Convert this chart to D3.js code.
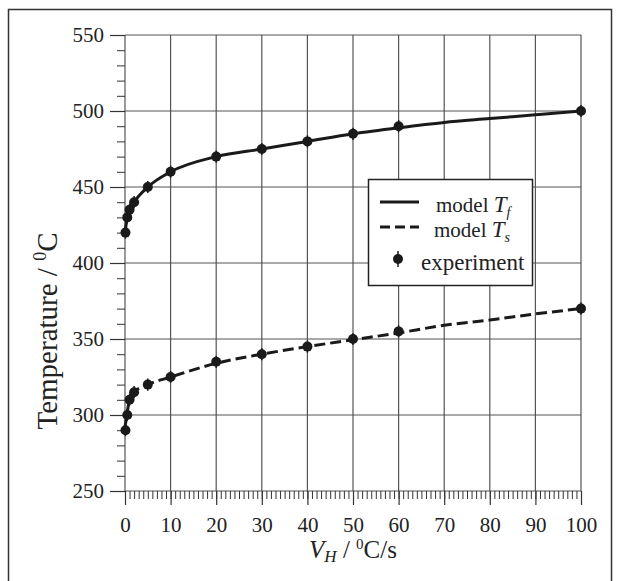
<!DOCTYPE html>
<html>
<head>
<meta charset="utf-8">
<script src="https://cdn.jsdelivr.net/npm/d3@7"></script>
<style>
  body { margin: 0; background: #fff; }
  svg, svg text { font-family: "Liberation Serif", "Times New Roman", serif; }
  .domain { display: none; }
</style>
</head>
<body>
<svg id="chart" width="620" height="581"></svg>
<script>
// experimental points
const expX  = [0.1, 0.5, 1, 2, 5, 10, 20, 30, 40, 50, 60, 100];
const expTf = [420, 430, 435, 440, 450, 460, 470, 475, 480, 485, 490, 500];
const expTs = [290, 300, 310, 315, 320, 325, 335, 340, 345, 350, 355, 370];
const expErr = 4;

// model curves
const modelX  = [0, 0.5, 1, 2, 5, 10, 20, 30, 40, 50, 60, 70, 80, 90, 100];
const modelTf = [420, 430, 435, 440, 450, 460, 470, 475, 480, 485, 489, 492.5, 495, 497.5, 500];
const modelTs = [292, 302, 310, 315, 320, 325, 334, 340, 345, 349.5, 354, 359, 362.5, 366.5, 370];

const xTicks = d3.range(0, 101, 10);
const yTicks = d3.range(250, 551, 50);

const serif = '"Liberation Serif", "Times New Roman", serif';
const svg = d3.select("#chart");
const pLeft = 125, pRight = 581, pTop = 35, pBottom = 491;

// outer frame
svg.append("rect")
  .attr("x", 8.5).attr("y", 9.5)
  .attr("width", 603).attr("height", 620)
  .attr("fill", "none").attr("stroke", "#333").attr("stroke-width", 1.5);

let x = d3.scaleLinear().domain([0, 100]).range([pLeft, pRight]);
let y = d3.scaleLinear().domain([250, 550]).range([pBottom, pTop]);

// grid
svg.append("g").selectAll("line").data(xTicks).join("line")
  .attr("x1", d => x(d)).attr("x2", d => x(d))
  .attr("y1", pTop).attr("y2", pBottom)
  .attr("stroke", "#555").attr("stroke-width", 1.2);
svg.append("g").selectAll("line").data(yTicks).join("line")
  .attr("x1", pLeft).attr("x2", pRight)
  .attr("y1", d => y(d)).attr("y2", d => y(d))
  .attr("stroke", "#555").attr("stroke-width", 1.2);

// axes: minor then major
svg.append("g")
  .attr("transform", "translate(0," + pBottom + ")")
  .call(d3.axisBottom(x).tickValues(d3.range(0, 101, 1)).tickSize(8).tickFormat(""))
  .selectAll("line").attr("stroke", "#333");
let xAxis = svg.append("g")
  .attr("transform", "translate(0," + pBottom + ")")
  .call(d3.axisBottom(x).tickValues(xTicks).tickSize(14).tickPadding(12))
  .attr("font-family", null).attr("font-size", 21);
xAxis.selectAll("line").attr("stroke", "#333").attr("stroke-width", 1.2);
xAxis.selectAll("text").attr("fill", "#222").style("font-family", serif);

svg.append("g")
  .attr("transform", "translate(" + pLeft + ",0)")
  .call(d3.axisLeft(y).tickValues(d3.range(250, 551, 10)).tickSize(8).tickFormat(""))
  .selectAll("line").attr("stroke", "#333");
let yAxis = svg.append("g")
  .attr("transform", "translate(" + pLeft + ",0)")
  .call(d3.axisLeft(y).tickValues(yTicks).tickSize(15).tickPadding(6))
  .attr("font-family", null).attr("font-size", 21);
yAxis.selectAll("line").attr("stroke", "#333").attr("stroke-width", 1.2);
yAxis.selectAll("text").attr("fill", "#222").style("font-family", serif);

// axis titles
let xt = svg.append("text")
  .attr("x", (pLeft + pRight) / 2).attr("y", 558)
  .attr("text-anchor", "middle").attr("font-size", 25).attr("fill", "#222");
xt.append("tspan").attr("font-style", "italic").text("V");
xt.append("tspan").attr("font-style", "italic").attr("font-size", 17).attr("dy", 4).text("H");
xt.append("tspan").attr("dy", -4).text(" / ");
xt.append("tspan").attr("font-size", 15).attr("dy", -9).text("0");
xt.append("tspan").attr("dy", 9).text("C/s");

let yt = svg.append("text")
  .attr("transform", "translate(57," + 331 + ") rotate(-90)")
  .attr("text-anchor", "middle").attr("font-size", 29).attr("fill", "#222");
yt.append("tspan").text("Temperature / ");
yt.append("tspan").attr("font-size", 18).attr("dy", -11).text("0");
yt.append("tspan").attr("dy", 11).text("C");

// model lines
const line = d3.line().curve(d3.curveMonotoneX);
const tfPts = modelX.map((v, i) => [x(v), y(modelTf[i])]);
const tsPts = modelX.map((v, i) => [x(v), y(modelTs[i])]);
svg.append("path").attr("d", line(tfPts))
  .attr("fill", "none").attr("stroke", "#1a1a1a").attr("stroke-width", 3);
svg.append("path").attr("d", line(tsPts))
  .attr("fill", "none").attr("stroke", "#1a1a1a").attr("stroke-width", 3)
  .attr("stroke-dasharray", "11,5");

// experiment points
[expTf, expTs].forEach(series => {
  let g = svg.append("g");
  g.selectAll("line").data(expX).join("line")
    .attr("x1", d => x(d)).attr("x2", d => x(d))
    .attr("y1", (d, i) => y(series[i] - expErr)).attr("y2", (d, i) => y(series[i] + expErr))
    .attr("stroke", "#1a1a1a").attr("stroke-width", 1.5);
  g.selectAll("circle").data(expX).join("circle")
    .attr("cx", d => x(d)).attr("cy", (d, i) => y(series[i]))
    .attr("r", 5).attr("fill", "#1a1a1a");
});

// legend
let lg = svg.append("g");
lg.append("rect").attr("x", 368.5).attr("y", 179.5).attr("width", 164).attr("height", 106)
  .attr("fill", "#fff").attr("stroke", "#222").attr("stroke-width", 1.5);
lg.append("line").attr("x1", 380).attr("x2", 419).attr("y1", 202).attr("y2", 202)
  .attr("stroke", "#1a1a1a").attr("stroke-width", 3);
lg.append("line").attr("x1", 380).attr("x2", 419).attr("y1", 227).attr("y2", 227)
  .attr("stroke", "#1a1a1a").attr("stroke-width", 3).attr("stroke-dasharray", "10,5");
lg.append("line").attr("x1", 398).attr("x2", 398).attr("y1", 251).attr("y2", 267)
  .attr("stroke", "#1a1a1a").attr("stroke-width", 1.5);
lg.append("circle").attr("cx", 398).attr("cy", 259).attr("r", 5).attr("fill", "#1a1a1a");

let t1 = lg.append("text").attr("x", 436).attr("y", 212).attr("font-size", 21).attr("fill", "#222");
t1.append("tspan").text("model ");
t1.append("tspan").attr("font-style", "italic").attr("font-size", 23).text("T");
t1.append("tspan").attr("font-style", "italic").attr("font-size", 14).attr("dy", 5).text("f");
let t2 = lg.append("text").attr("x", 434).attr("y", 237).attr("font-size", 21).attr("fill", "#222");
t2.append("tspan").text("model ");
t2.append("tspan").attr("font-style", "italic").attr("font-size", 23).text("T");
t2.append("tspan").attr("font-style", "italic").attr("font-size", 14).attr("dy", 5).text("s");
lg.append("text").attr("x", 421).attr("y", 270).attr("font-size", 23).attr("fill", "#222")
  .text("experiment");
</script>
</body>
</html>
